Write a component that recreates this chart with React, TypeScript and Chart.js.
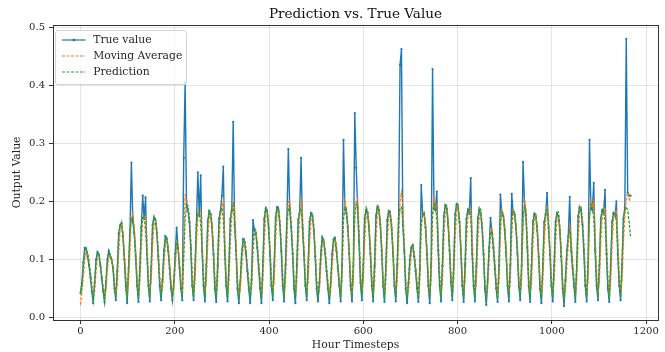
import React, { useEffect, useRef } from "react";
import { Chart, registerables } from "chart.js";

Chart.register(...registerables);

const hourStep = 3;

const trueValue = [
  0.043, 0.06, 0.095, 0.12, 0.118, 0.105, 0.09, 0.07,
  0.045, 0.025, 0.06, 0.1, 0.113, 0.108, 0.09, 0.068,
  0.045, 0.027, 0.06, 0.1, 0.115, 0.105, 0.1, 0.085,
  0.05, 0.03, 0.08, 0.145, 0.158, 0.162, 0.14, 0.1,
  0.055, 0.025, 0.085, 0.15, 0.267, 0.165, 0.145, 0.105,
  0.055, 0.027, 0.085, 0.155, 0.21, 0.17, 0.207, 0.11,
  0.055, 0.028, 0.085, 0.16, 0.172, 0.168, 0.145, 0.105,
  0.055, 0.03, 0.065, 0.115, 0.14, 0.135, 0.115, 0.085,
  0.05, 0.03, 0.06, 0.11, 0.155, 0.12, 0.085,
  0.05, 0.03, 0.275, 0.405, 0.19, 0.185, 0.165, 0.12,
  0.055, 0.03, 0.085, 0.16, 0.25, 0.175, 0.245, 0.115,
  0.055, 0.028, 0.09, 0.165, 0.183, 0.178, 0.155, 0.11,
  0.05, 0.027, 0.09, 0.17, 0.183, 0.21, 0.26, 0.115,
  0.055, 0.028, 0.09, 0.17, 0.185, 0.337, 0.16, 0.115,
  0.05, 0.025, 0.06, 0.11, 0.135, 0.13, 0.11, 0.08,
  0.05, 0.025, 0.065, 0.168, 0.15, 0.145, 0.12, 0.085,
  0.05, 0.025, 0.09, 0.17, 0.188, 0.182, 0.155, 0.11,
  0.055, 0.03, 0.09, 0.172, 0.19, 0.185, 0.16, 0.115,
  0.055, 0.028, 0.09, 0.17, 0.29, 0.185, 0.155, 0.11,
  0.05, 0.025, 0.09, 0.168, 0.18, 0.275, 0.155, 0.11,
  0.055, 0.03, 0.088, 0.165, 0.18, 0.175, 0.15, 0.105,
  0.05, 0.028, 0.06, 0.11, 0.137, 0.13, 0.11, 0.08,
  0.05, 0.025, 0.06, 0.11, 0.135, 0.137, 0.115, 0.085,
  0.055, 0.028, 0.09, 0.306, 0.187, 0.18, 0.155, 0.11,
  0.055, 0.028, 0.09, 0.352, 0.258, 0.19, 0.13,
  0.06, 0.03, 0.09, 0.17, 0.185, 0.18, 0.155, 0.11,
  0.055, 0.028, 0.09, 0.175, 0.19, 0.185, 0.16, 0.115,
  0.055, 0.027, 0.09, 0.168, 0.183, 0.178, 0.155, 0.11,
  0.055, 0.028, 0.09, 0.17, 0.435, 0.462, 0.16, 0.115,
  0.05, 0.025, 0.06, 0.1, 0.12, 0.125, 0.105, 0.08,
  0.05, 0.027, 0.085, 0.228, 0.178, 0.18, 0.155, 0.11,
  0.055, 0.025, 0.09, 0.428, 0.19, 0.185, 0.217, 0.115,
  0.055, 0.028, 0.09, 0.175, 0.193, 0.188, 0.16, 0.115,
  0.06, 0.03, 0.09, 0.178, 0.195, 0.19, 0.165, 0.115,
  0.055, 0.027, 0.09, 0.17, 0.185, 0.18, 0.24, 0.11,
  0.055, 0.028, 0.09, 0.17, 0.185, 0.18, 0.155, 0.11,
  0.05, 0.022, 0.065, 0.12, 0.172, 0.146, 0.12, 0.085,
  0.05, 0.027, 0.09, 0.212, 0.18, 0.175, 0.15, 0.11,
  0.055, 0.028, 0.09, 0.213, 0.18, 0.178, 0.155, 0.11,
  0.055, 0.03, 0.09, 0.268, 0.2, 0.178, 0.12,
  0.055, 0.027, 0.09, 0.165, 0.178, 0.175, 0.15, 0.105,
  0.05, 0.025, 0.088, 0.165, 0.178, 0.215, 0.155, 0.11,
  0.055, 0.028, 0.09, 0.165, 0.18, 0.175, 0.15, 0.105,
  0.05, 0.02, 0.065, 0.115, 0.14, 0.208, 0.115, 0.085,
  0.055, 0.027, 0.09, 0.175, 0.19, 0.185, 0.16, 0.115,
  0.055, 0.028, 0.09, 0.306, 0.19, 0.185, 0.232, 0.115,
  0.055, 0.03, 0.09, 0.17, 0.185, 0.18, 0.22, 0.11,
  0.05, 0.027, 0.09, 0.165, 0.18, 0.175, 0.2, 0.11,
  0.055, 0.03, 0.09, 0.17, 0.19, 0.48, 0.215, 0.21, 0.21,
];

const movingAverage = [
  0.022, 0.045, 0.07, 0.1, 0.115, 0.113, 0.1, 0.08,
  0.06, 0.038, 0.045, 0.08, 0.105, 0.108, 0.095, 0.075,
  0.055, 0.038, 0.045, 0.08, 0.105, 0.108, 0.1, 0.09,
  0.065, 0.042, 0.055, 0.11, 0.15, 0.158, 0.148, 0.115,
  0.075, 0.042, 0.06, 0.115, 0.175, 0.18, 0.155, 0.12,
  0.075, 0.042, 0.06, 0.12, 0.17, 0.175, 0.175, 0.13,
  0.075, 0.043, 0.062, 0.125, 0.16, 0.168, 0.155, 0.12,
  0.075, 0.045, 0.05, 0.09, 0.125, 0.135, 0.125, 0.095,
  0.065, 0.042, 0.048, 0.085, 0.13, 0.125, 0.1,
  0.065, 0.04, 0.13, 0.21, 0.205, 0.19, 0.175, 0.135,
  0.08, 0.045, 0.06, 0.125, 0.18, 0.185, 0.185, 0.135,
  0.078, 0.043, 0.062, 0.13, 0.172, 0.178, 0.165, 0.125,
  0.075, 0.042, 0.062, 0.13, 0.175, 0.19, 0.2, 0.14,
  0.078, 0.043, 0.062, 0.13, 0.175, 0.2, 0.19, 0.13,
  0.07, 0.04, 0.048, 0.085, 0.12, 0.13, 0.12, 0.09,
  0.065, 0.04, 0.05, 0.11, 0.145, 0.148, 0.13, 0.1,
  0.07, 0.04, 0.062, 0.13, 0.175, 0.183, 0.165, 0.125,
  0.078, 0.045, 0.062, 0.132, 0.178, 0.186, 0.17, 0.13,
  0.078, 0.044, 0.062, 0.13, 0.2, 0.2, 0.168, 0.125,
  0.072, 0.04, 0.062, 0.128, 0.175, 0.2, 0.18, 0.125,
  0.075, 0.044, 0.06, 0.125, 0.168, 0.176, 0.16, 0.12,
  0.07, 0.042, 0.048, 0.088, 0.123, 0.132, 0.12, 0.09,
  0.065, 0.04, 0.047, 0.088, 0.122, 0.134, 0.125, 0.095,
  0.07, 0.042, 0.062, 0.17, 0.2, 0.185, 0.165, 0.125,
  0.075, 0.044, 0.062, 0.19, 0.2, 0.205, 0.155,
  0.085, 0.045, 0.062, 0.13, 0.175, 0.182, 0.165, 0.125,
  0.078, 0.043, 0.062, 0.135, 0.18, 0.187, 0.17, 0.13,
  0.075, 0.042, 0.062, 0.13, 0.172, 0.18, 0.165, 0.125,
  0.075, 0.043, 0.062, 0.13, 0.2, 0.215, 0.19, 0.13,
  0.07, 0.04, 0.047, 0.08, 0.11, 0.122, 0.113, 0.09,
  0.065, 0.04, 0.06, 0.15, 0.18, 0.18, 0.165, 0.125,
  0.075, 0.042, 0.062, 0.18, 0.205, 0.19, 0.195, 0.14,
  0.08, 0.044, 0.062, 0.135, 0.182, 0.19, 0.172, 0.13,
  0.08, 0.045, 0.063, 0.137, 0.185, 0.192, 0.175, 0.13,
  0.078, 0.043, 0.062, 0.13, 0.175, 0.183, 0.19, 0.145,
  0.075, 0.043, 0.062, 0.13, 0.175, 0.182, 0.165, 0.125,
  0.07, 0.038, 0.05, 0.095, 0.15, 0.155, 0.133, 0.1,
  0.065, 0.04, 0.06, 0.14, 0.185, 0.178, 0.16, 0.125,
  0.075, 0.043, 0.062, 0.14, 0.185, 0.18, 0.165, 0.125,
  0.075, 0.045, 0.062, 0.155, 0.2, 0.19, 0.14,
  0.075, 0.042, 0.06, 0.127, 0.168, 0.176, 0.16, 0.12,
  0.07, 0.04, 0.06, 0.127, 0.17, 0.19, 0.175, 0.125,
  0.075, 0.043, 0.062, 0.127, 0.17, 0.177, 0.16, 0.12,
  0.068, 0.036, 0.048, 0.09, 0.125, 0.16, 0.14, 0.1,
  0.07, 0.042, 0.062, 0.133, 0.18, 0.188, 0.17, 0.13,
  0.078, 0.043, 0.062, 0.17, 0.2, 0.19, 0.2, 0.145,
  0.078, 0.045, 0.062, 0.13, 0.175, 0.183, 0.19, 0.14,
  0.072, 0.042, 0.06, 0.127, 0.17, 0.178, 0.185, 0.14,
  0.078, 0.045, 0.062, 0.13, 0.175, 0.205, 0.215, 0.205, 0.2,
];

const prediction = [
  0.04, 0.055, 0.09, 0.115, 0.12, 0.11, 0.095, 0.075,
  0.05, 0.03, 0.06, 0.095, 0.112, 0.11, 0.095, 0.07,
  0.05, 0.032, 0.06, 0.098, 0.113, 0.11, 0.1, 0.085,
  0.055, 0.035, 0.08, 0.14, 0.16, 0.165, 0.145, 0.105,
  0.06, 0.03, 0.085, 0.15, 0.17, 0.172, 0.15, 0.11,
  0.06, 0.032, 0.085, 0.155, 0.172, 0.175, 0.15, 0.11,
  0.06, 0.033, 0.088, 0.158, 0.175, 0.17, 0.148, 0.108,
  0.06, 0.035, 0.065, 0.11, 0.135, 0.138, 0.12, 0.09,
  0.055, 0.035, 0.06, 0.105, 0.13, 0.118, 0.09,
  0.055, 0.035, 0.1, 0.17, 0.19, 0.192, 0.17, 0.125,
  0.06, 0.035, 0.09, 0.16, 0.18, 0.183, 0.16, 0.12,
  0.06, 0.033, 0.09, 0.165, 0.185, 0.183, 0.16, 0.115,
  0.058, 0.032, 0.09, 0.168, 0.185, 0.19, 0.17, 0.12,
  0.06, 0.033, 0.09, 0.17, 0.19, 0.195, 0.165, 0.12,
  0.058, 0.032, 0.065, 0.11, 0.132, 0.135, 0.115, 0.085,
  0.055, 0.032, 0.07, 0.13, 0.155, 0.15, 0.125, 0.09,
  0.058, 0.032, 0.092, 0.17, 0.19, 0.188, 0.16, 0.115,
  0.06, 0.035, 0.092, 0.172, 0.192, 0.19, 0.165, 0.12,
  0.06, 0.033, 0.09, 0.17, 0.188, 0.19, 0.16, 0.115,
  0.058, 0.032, 0.09, 0.168, 0.185, 0.188, 0.16, 0.115,
  0.06, 0.035, 0.09, 0.165, 0.18, 0.18, 0.155, 0.11,
  0.058, 0.033, 0.065, 0.115, 0.14, 0.135, 0.115, 0.085,
  0.055, 0.032, 0.065, 0.112, 0.135, 0.14, 0.12, 0.09,
  0.06, 0.033, 0.092, 0.17, 0.188, 0.19, 0.16, 0.115,
  0.06, 0.033, 0.095, 0.175, 0.195, 0.19, 0.135,
  0.065, 0.035, 0.092, 0.17, 0.19, 0.185, 0.16, 0.115,
  0.06, 0.033, 0.092, 0.175, 0.193, 0.19, 0.165, 0.12,
  0.06, 0.032, 0.09, 0.168, 0.185, 0.183, 0.16, 0.115,
  0.06, 0.033, 0.092, 0.17, 0.188, 0.19, 0.165, 0.12,
  0.055, 0.032, 0.065, 0.105, 0.122, 0.125, 0.11, 0.085,
  0.055, 0.032, 0.088, 0.165, 0.175, 0.18, 0.158, 0.115,
  0.06, 0.032, 0.092, 0.175, 0.195, 0.198, 0.17, 0.12,
  0.06, 0.033, 0.092, 0.175, 0.195, 0.193, 0.165, 0.12,
  0.065, 0.035, 0.092, 0.178, 0.197, 0.195, 0.168, 0.12,
  0.06, 0.032, 0.09, 0.17, 0.188, 0.19, 0.17, 0.115,
  0.06, 0.033, 0.09, 0.17, 0.19, 0.188, 0.16, 0.115,
  0.055, 0.03, 0.07, 0.12, 0.145, 0.148, 0.125, 0.09,
  0.055, 0.032, 0.09, 0.168, 0.182, 0.18, 0.155, 0.115,
  0.06, 0.033, 0.09, 0.168, 0.183, 0.182, 0.158, 0.115,
  0.06, 0.035, 0.092, 0.172, 0.19, 0.182, 0.125,
  0.06, 0.032, 0.09, 0.165, 0.18, 0.178, 0.155, 0.11,
  0.055, 0.032, 0.09, 0.165, 0.18, 0.185, 0.16, 0.115,
  0.06, 0.033, 0.09, 0.165, 0.18, 0.182, 0.155, 0.11,
  0.055, 0.03, 0.07, 0.115, 0.14, 0.15, 0.125, 0.09,
  0.06, 0.032, 0.092, 0.175, 0.192, 0.19, 0.165, 0.12,
  0.06, 0.033, 0.092, 0.175, 0.195, 0.193, 0.17, 0.12,
  0.06, 0.035, 0.09, 0.17, 0.188, 0.185, 0.165, 0.115,
  0.055, 0.032, 0.09, 0.165, 0.182, 0.18, 0.165, 0.115,
  0.06, 0.035, 0.09, 0.17, 0.185, 0.19, 0.185, 0.165, 0.14,
];

const xTicks = [0, 200, 400, 600, 800, 1000, 1200];
const yTicks = [0, 0.1, 0.2, 0.3, 0.4, 0.5];
const seriesNames = ["True value", "Moving Average", "Prediction"];
const seriesColors = ["#1f77b4", "#ff7f0e", "#2ca02c"];
const titleText = "Prediction vs. True Value";
const xTitle = "Hour Timesteps";
const yTitle = "Output Value";

const FONT = "'DejaVu Serif', 'Liberation Serif', serif";
const TEXT = "#262626";

export default function App() {
  const ref = useRef<HTMLCanvasElement | null>(null);

  useEffect(() => {
    document.body.style.margin = "0";
    const toPts = (arr: number[]) => arr.map((v, i) => ({ x: i * hourStep, y: v }));

    const framePlugin = {
      id: "frame",
      afterDraw(chart: any) {
        const { ctx, chartArea: a } = chart;
        ctx.save();
        ctx.strokeStyle = "#333";
        ctx.lineWidth = 1;
        ctx.strokeRect(
          Math.round(a.left) + 0.5,
          Math.round(a.top) + 0.5,
          Math.round(a.right) - Math.round(a.left),
          Math.round(a.bottom) - Math.round(a.top)
        );
        ctx.restore();
      },
    };

    const grid = {
      color: "rgba(0,0,0,0.13)",
      lineWidth: 0.8,
      drawTicks: true,
      tickLength: 4,
      tickColor: "#333",
      tickWidth: 1,
    };

    const chart = new Chart(ref.current as HTMLCanvasElement, {
      type: "line",
      data: {
        datasets: [
          {
            label: seriesNames[0],
            data: toPts(trueValue),
            borderColor: seriesColors[0],
            backgroundColor: seriesColors[0],
            borderWidth: 1.4,
            pointRadius: 1.1,
            pointBorderWidth: 0,
            pointHoverRadius: 0,
            tension: 0,
            order: 3,
          },
          {
            label: seriesNames[1],
            data: toPts(movingAverage),
            borderColor: seriesColors[1],
            backgroundColor: seriesColors[1],
            borderWidth: 1.3,
            borderDash: [3, 1.5],
            pointRadius: 0,
            tension: 0,
            order: 2,
          },
          {
            label: seriesNames[2],
            data: toPts(prediction),
            borderColor: seriesColors[2],
            backgroundColor: seriesColors[2],
            borderWidth: 1.3,
            borderDash: [3, 1.5],
            pointRadius: 0,
            tension: 0,
            order: 1,
          },
        ],
      },
      options: {
        animation: false,
        responsive: false,
        events: [],
        layout: { padding: { left: 7, right: 7, top: 0, bottom: 0 } },
        plugins: {
          legend: { display: false },
          tooltip: { enabled: false },
          title: {
            display: true,
            text: titleText,
            fullSize: false,
            color: "#111",
            font: { family: FONT, size: 13.6, weight: "normal" },
            padding: { top: 6.5, bottom: 2 },
          },
        },
        scales: {
          x: {
            type: "linear",
            min: -58.35,
            max: 1225.35,
            afterBuildTicks: (axis: any) => {
              axis.ticks = xTicks.map((v) => ({ value: v }));
            },
            afterFit: (s: any) => {
              s.height = 32;
            },
            ticks: {
              color: TEXT,
              font: { family: FONT, size: 10 },
              padding: 1,
              maxRotation: 0,
              autoSkip: false,
              callback: (v: any) => String(v),
            },
            grid,
            border: { display: false },
            title: {
              display: true,
              text: xTitle,
              color: TEXT,
              font: { family: FONT, size: 10.8 },
              padding: { top: 0, bottom: 0 },
            },
          },
          y: {
            type: "linear",
            min: -0.004,
            max: 0.504,
            afterBuildTicks: (axis: any) => {
              axis.ticks = yTicks.map((v) => ({ value: v }));
            },
            afterFit: (s: any) => {
              s.width = 46;
            },
            ticks: {
              color: TEXT,
              font: { family: FONT, size: 10 },
              padding: 4,
              autoSkip: false,
              callback: (v: any) => Number(v).toFixed(1),
            },
            grid,
            border: { display: false },
            title: {
              display: true,
              text: yTitle,
              color: TEXT,
              font: { family: FONT, size: 10.8 },
              padding: { top: 4, bottom: 0 },
            },
          },
        },
      },
      plugins: [framePlugin],
    } as any);

    return () => chart.destroy();
  }, []);

  return (
    <div style={{ position: "relative", width: 665, height: 352, overflow: "hidden", background: "#fff" }}>
      <style>{"html,body{margin:0;padding:0;background:#fff;}"}</style>
      <canvas ref={ref} width={665} height={352} style={{ display: "block", width: 665, height: 352 }} />
      <div
        style={{
          position: "absolute",
          left: 55,
          top: 30,
          width: 132,
          height: 55,
          boxSizing: "border-box",
          background: "rgba(255,255,255,0.8)",
          border: "1px solid #d4d4d4",
          borderRadius: 3,
          fontFamily: FONT,
          fontSize: 10.8,
          color: TEXT,
        }}
      >
        {seriesNames.map((name, i) => (
          <div
            key={name}
            style={{
              position: "absolute",
              left: 5.7,
              top: 1.2 + i * 15.85,
              height: 15.8,
              display: "flex",
              alignItems: "center",
              whiteSpace: "nowrap",
            }}
          >
            <svg width={24} height={6} style={{ display: "block" }}>
              <line
                x1={0}
                y1={3}
                x2={23.5}
                y2={3}
                stroke={seriesColors[i]}
                strokeWidth={1.2}
                strokeDasharray={i === 0 ? undefined : "3 1.5"}
              />
              {i === 0 ? <circle cx={11.75} cy={3} r={1.3} fill={seriesColors[0]} /> : null}
            </svg>
            <span style={{ marginLeft: 7.5, lineHeight: "15.8px" }}>{name}</span>
          </div>
        ))}
      </div>
    </div>
  );
}
